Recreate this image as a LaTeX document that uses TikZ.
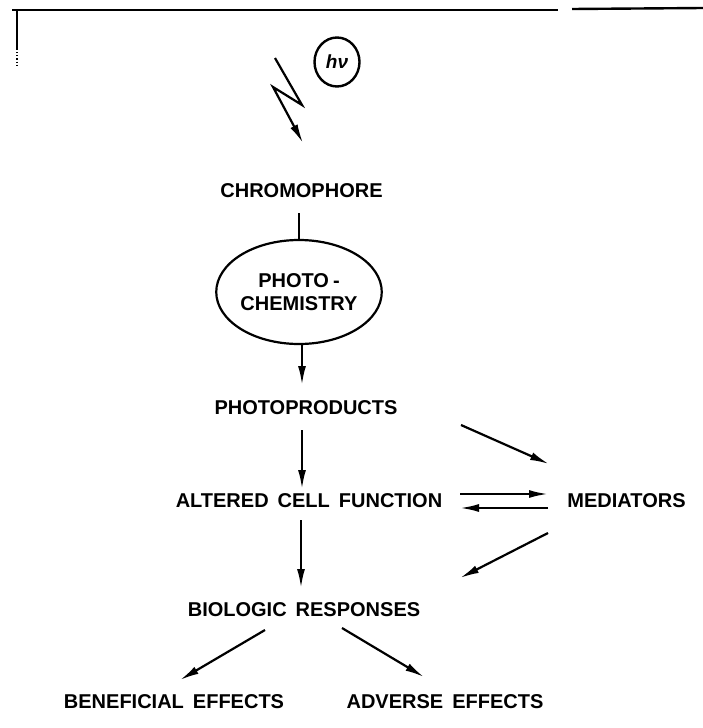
\documentclass[tikz,border=0pt]{standalone}
\usepackage{fontspec}
\setmainfont{Liberation Sans}
\usetikzlibrary{arrows.meta,shapes.geometric}
\tikzset{
  lbl/.style={font={\fontsize{20}{23}\selectfont\bfseries\spaceskip=9pt\relax}, inner sep=3pt},
  arr/.style={line width=2.2pt, -{Latex[length=19pt,width=8pt]}},
  plain/.style={line width=2.2pt},
}
\begin{document}
\begin{tikzpicture}[x=1pt,y=1pt]
\useasboundingbox (0,0) rectangle (703,-728);
% frame remnants
\draw[line width=1.8pt] (12,-10) -- (558,-10);
\draw[line width=2.4pt] (572,-9) -- (703,-8);
\draw[line width=1.8pt] (17,-10) -- (17,-50);
\draw[line width=1.2pt, dotted] (17,-52) -- (17,-66);

% nodes
\node[draw, ellipse, line width=2.4pt, minimum width=45pt, minimum height=49pt, inner sep=0pt,
      font=\fontsize{19}{22}\selectfont\bfseries\itshape] (hv) at (337,-62) {hν};
\node[lbl] (chr) at (301.5,-190.5) {CHROMOPHORE};
\node[lbl, draw, ellipse, line width=2.2pt, minimum width=147pt, minimum height=104pt,
      align=center, inner sep=0pt] (pc) at (299,-292) {PHOTO\hspace{4pt}-\\CHEMISTRY};
\node[lbl] (pp) at (306,-408) {PHOTOPRODUCTS};
\node[lbl] (acf) at (309,-501) {ALTERED CELL FUNCTION};
\node[lbl] (med) at (626.5,-500.5) {MEDIATORS};
\node[lbl] (br) at (304,-610) {BIOLOGIC RESPONSES};
\node[lbl] (be) at (174,-702) {BENEFICIAL EFFECTS};
\node[lbl] (ae) at (445,-702) {ADVERSE EFFECTS};

% lightning bolt
\coordinate (l1) at (275,-58);
\coordinate (l2) at (302,-105);
\coordinate (l3) at (273,-87);
\coordinate (l4) at (303,-143);
\draw[arr, line join=miter] (l1) -- (l2) -- (l3) -- (l4);

% connectors
\draw[plain] ([shift={(-2.5,-22.5)}]chr.center) -- (pc.north);
\draw[arr] ([xshift=3]pc.south) -- ([shift={(-4,23)}]pp.center);
\draw[arr] ([shift={(-4,-22)}]pp.center) -- ([shift={(-7,12)}]acf.center);
\draw[arr] ([shift={(-8,-19)}]acf.center) -- ([shift={(-3,22)}]br.center);
\draw[arr] ([shift={(155,-17)}]pp.center) -- ([shift={(-77.5,36.5)}]med.center);
\draw[arr] ([shift={(151,7)}]acf.center) -- ([shift={(-78.5,6.5)}]med.center);
\draw[arr] ([shift={(-78.5,-7.5)}]med.center) -- ([shift={(151,-7)}]acf.center);
\draw[arr] ([shift={(-78.5,-32.5)}]med.center) -- ([shift={(156,32)}]br.center);
\draw[arr] ([shift={(-39,-20)}]br.center) -- ([shift={(6,22)}]be.center);
\draw[arr] ([shift={(38,-18)}]br.center) -- ([shift={(-21,25)}]ae.center);
\end{tikzpicture}
\end{document}
